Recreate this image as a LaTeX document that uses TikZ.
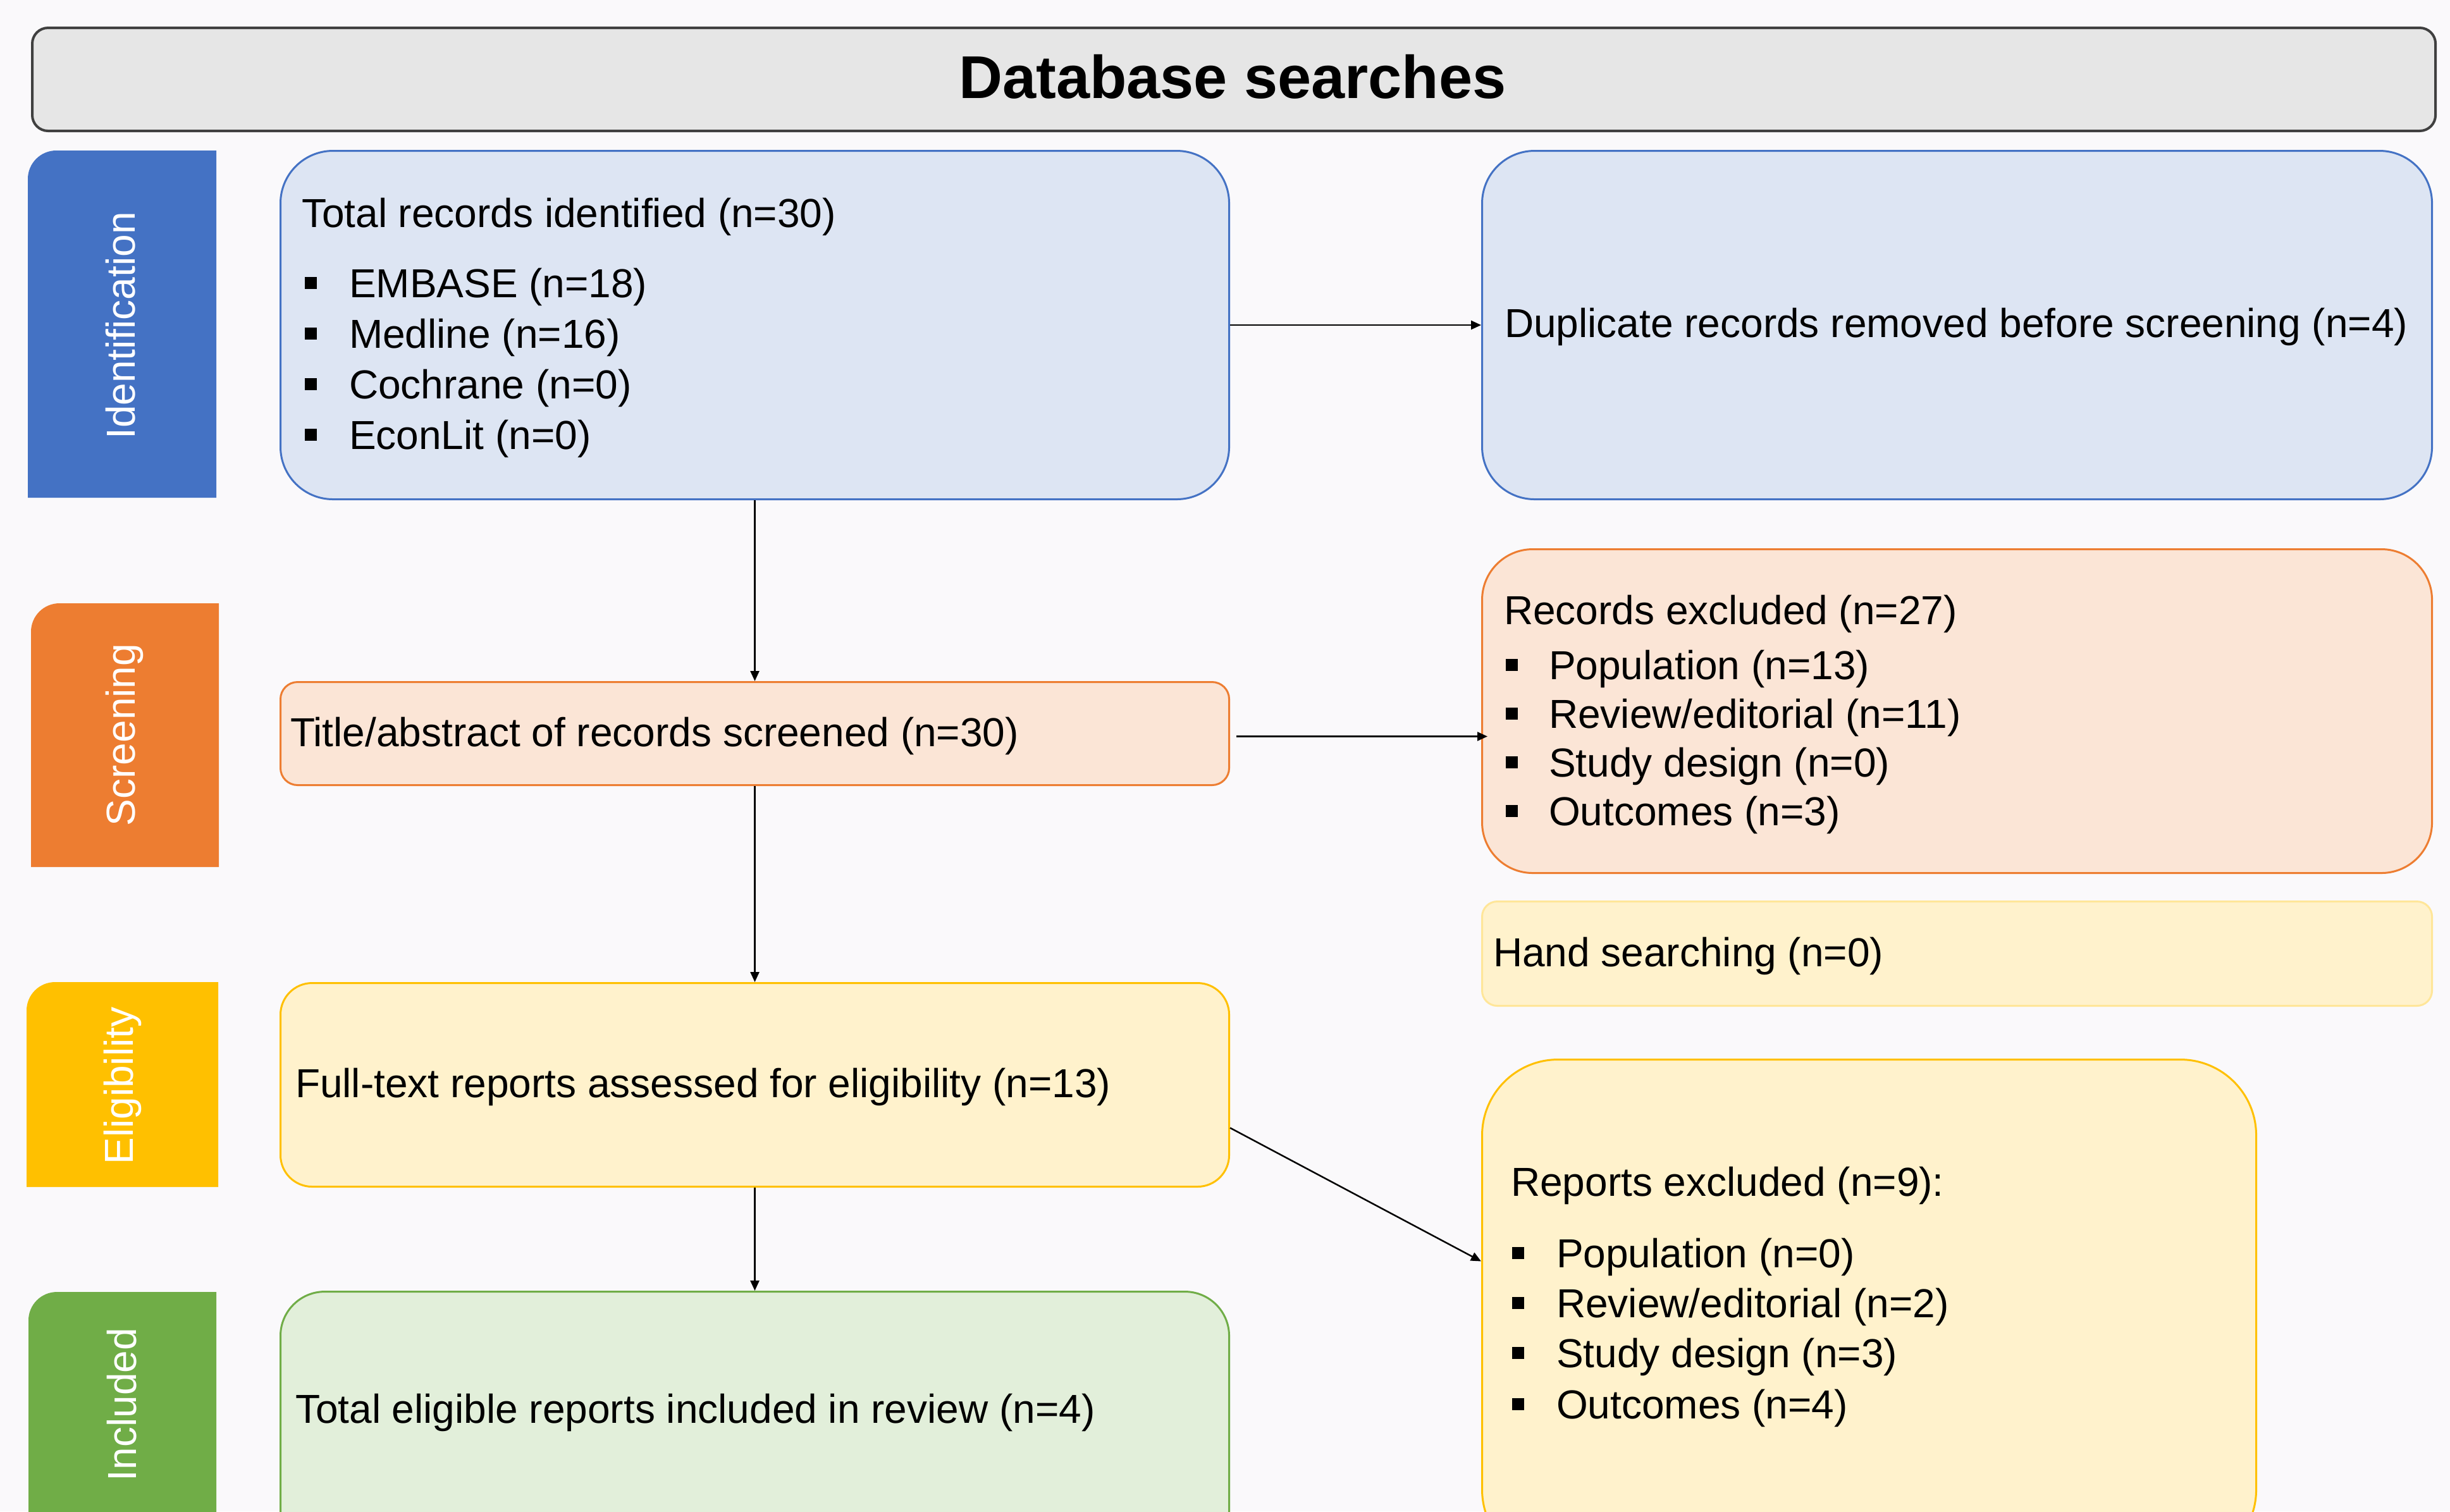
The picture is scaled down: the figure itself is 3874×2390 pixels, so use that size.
\documentclass[tikz,border=0pt]{standalone}
\usepackage{fontspec}
\setmainfont{Liberation Sans}
\usetikzlibrary{arrows.meta,calc}
\definecolor{bgc}{HTML}{FAF9FB}
\definecolor{blueS}{HTML}{4472C4}
\definecolor{blueF}{HTML}{DDE5F3}
\definecolor{orS}{HTML}{ED7D31}
\definecolor{orF}{HTML}{FBE5D6}
\definecolor{goS}{HTML}{FFC000}
\definecolor{goF}{HTML}{FFF2CC}
\definecolor{goL}{HTML}{FFE699}
\definecolor{grS}{HTML}{70AD47}
\definecolor{grF}{HTML}{E2EFDA}
\definecolor{tiF}{HTML}{E6E6E6}
\definecolor{tiS}{HTML}{404040}
\begin{document}
\begin{tikzpicture}[x=0.2pt,y=-0.2pt,
  box/.style={draw, line width=0.6pt, inner sep=0pt, anchor=north west},
  txt/.style={inner sep=0pt, anchor=base west, font=\fontsize{12.8pt}{15pt}\selectfont, text=black},
  bul/.style={fill=black, inner sep=0pt, minimum size=3.8pt},
  stage/.style={text=white, rotate=90, inner sep=0pt, font=\fontsize{12.8pt}{15pt}\selectfont},
  arr/.style={-{Triangle[length=3.2pt,width=2.8pt]}, line width=0.5pt, draw=black},
]
\useasboundingbox (0,0) rectangle (3874,2390);
\clip (0,0) rectangle (3874,2390);
\fill[bgc] (0,0) rectangle (3874,2390);

% title
\node[box, draw=tiS, fill=tiF, line width=0.8pt, rounded corners=5pt,
      minimum width=760pt, minimum height=32.6pt] (title) at (49,42) {};
\node[inner sep=0pt, anchor=base, font=\fontsize{19.1pt}{22pt}\selectfont\bfseries] (titletxt) at (1949,155) {Database searches};

% stage bars
\fill[blueS] (44,787) [rounded corners=9pt]-- (44,238) [sharp corners]-- (342,238) -- (342,787) -- cycle;
\node[stage] (sIdent) at (191,515) {Identification};
\fill[orS] (49,1371) [rounded corners=9pt]-- (49,954) [sharp corners]-- (346,954) -- (346,1371) -- cycle;
\node[stage] (sScreen) at (197,1162) {Screening};
\fill[goS] (42,1877) [rounded corners=9pt]-- (42,1553) [sharp corners]-- (345,1553) -- (345,1877) -- cycle;
\node[stage] (sElig) at (194,1717) {Eligibility};
\fill[grS] (45,2500) [rounded corners=9pt]-- (45,2043) [sharp corners]-- (342,2043) -- (342,2500) -- cycle;
\node[stage] (sIncl) at (193,2221) {Included};

% boxes
\node[box, draw=blueS, fill=blueF, rounded corners=16.6pt, minimum width=300pt, minimum height=110.2pt] (b1) at (442,237) {};
\node[box, draw=blueS, fill=blueF, rounded corners=16.6pt, minimum width=300.4pt, minimum height=110.2pt] (b2) at (2342,237) {};
\node[box, draw=orS, fill=orF, rounded corners=5.4pt, minimum width=300pt, minimum height=32.6pt] (b3) at (442,1077) {};
\node[box, draw=orS, fill=orF, rounded corners=16pt, minimum width=300.4pt, minimum height=102.4pt] (b4) at (2342,867) {};
\node[box, draw=goL, fill=goF, rounded corners=4.8pt, minimum width=300.4pt, minimum height=33pt] (hand) at (2342,1424) {};
\node[box, draw=goS, fill=goF, rounded corners=10pt, minimum width=300pt, minimum height=64.4pt] (b5) at (442,1553) {};
\node[box, draw=goS, fill=goF, rounded corners=24pt, minimum width=244.8pt, minimum height=160pt] (b7) at (2342,1674) {};
\node[box, draw=grS, fill=grF, rounded corners=14pt, minimum width=300pt, minimum height=88pt] (b6) at (442,2041) {};

% texts box 1
\node[txt] (t1) at (476,359) {Total records identified (n=30)};
\node[bul] (u11) at (491,447) {};
\node[txt] (t11) at (551,470) {EMBASE (n=18)};
\node[bul] (u12) at (491,527) {};
\node[txt] (t12) at (551,550) {Medline (n=16)};
\node[bul] (u13) at (491,607) {};
\node[txt] (t13) at (551,630) {Cochrane (n=0)};
\node[bul] (u14) at (491,687) {};
\node[txt] (t14) at (551,710) {EconLit (n=0)};

% box 2
\node[txt] (t2) at (2378,533) {Duplicate records removed before screening (n=4)};

% box 3
\node[txt] (t3) at (458,1180) {Title/abstract of records screened (n=30)};

% box 4
\node[txt] (t4) at (2377,987) {Records excluded (n=27)};
\node[bul] (u41) at (2390,1051) {};
\node[txt] (t41) at (2448,1074) {Population (n=13)};
\node[bul] (u42) at (2390,1128) {};
\node[txt] (t42) at (2448,1151) {Review/editorial (n=11)};
\node[bul] (u43) at (2390,1205) {};
\node[txt] (t43) at (2448,1228) {Study design (n=0)};
\node[bul] (u44) at (2390,1282) {};
\node[txt] (t44) at (2448,1305) {Outcomes (n=3)};

% hand searching
\node[txt] (th) at (2360,1528) {Hand searching (n=0)};

% box 5
\node[txt] (t5) at (466,1735) {Full-text reports assessed for eligibility (n=13)};

% box 6
\node[txt] (t6) at (466,2250) {Total eligible reports included in review (n=4)};

% box 7
\node[txt] (t7) at (2388,1891) {Reports excluded (n=9):};
\node[bul] (u71) at (2400,1981) {};
\node[txt] (t71) at (2460,2004) {Population (n=0)};
\node[bul] (u72) at (2400,2060) {};
\node[txt] (t72) at (2460,2083) {Review/editorial (n=2)};
\node[bul] (u73) at (2400,2139) {};
\node[txt] (t73) at (2460,2162) {Study design (n=3)};
\node[bul] (u74) at (2400,2220) {};
\node[txt] (t74) at (2460,2243) {Outcomes (n=4)};

% connectors
\draw[arr] (b1.east) -- (b2.west);
\draw[arr] (b1.south) -- (b3.north);
\coordinate (a3s) at ([shift={(2pt,-0.9pt)}]b3.east);
\draw[arr, shorten >=-2pt] (a3s) -- (a3s -| b4.west);
\draw[arr] (b3.south) -- (b5.north);
\draw[arr] ([yshift=-13.6pt]b5.east) -- ([yshift=16.2pt]b7.west);
\draw[arr] (b5.south) -- (b6.north);
\end{tikzpicture}
\end{document}
